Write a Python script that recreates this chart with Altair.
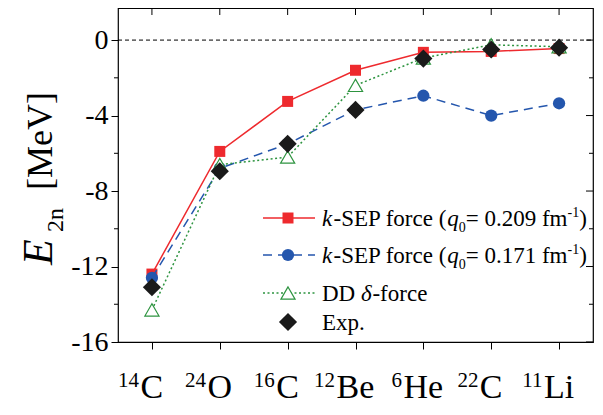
import altair as alt
import pandas as pd

# ---- data ----
mass_numbers = ["14", "24", "16", "12", "6", "22", "11"]
elements = ["C", "O", "C", "Be", "He", "C", "Li"]
ksep_209 = [-12.4, -5.9, -3.25, -1.6, -0.65, -0.6, -0.45]
ksep_171 = [-12.6, -6.8, -5.5, -3.7, -2.95, -4.0, -3.35]
dd_delta = [-14.3, -6.6, -6.2, -2.4, -0.95, -0.25, -0.35]
exp_vals = [-13.1, -6.95, -5.5, -3.7, -0.98, -0.5, -0.4]
y_major = [-16, -12, -8, -4, 0]
y_minor = [-14, -10, -6, -2]
zero_level = [0]

W, H = 475, 334
FONT = "Liberation Serif"
RED, BLUE, GREEN, BLACK = "#ee2a2e", "#2456ad", "#2e9440", "#1a1a1a"
STEP = W / 7.0

TR = {' ': 250, '(': 333, ')': 333, '-': 333, '.': 250, '=': 564, 'S': 556, 'E': 611,
      'P': 556, 'D': 722, 'f': 333, 'o': 500, 'r': 333, 'c': 444, 'e': 444, 'm': 778,
      'x': 500, 'p': 500, 'k': 500, 'C': 667, 'O': 722, 'B': 667, 'H': 722, 'L': 611,
      'i': 278, 'n': 500, '[': 333, ']': 333, 'M': 889, 'V': 722, 'q': 500, 'δ': 500}


def tw(s, size):
    return sum(TR.get(ch, 500) for ch in s) / 1000.0 * size


df = pd.DataFrame({
    "idx": list(range(7)),
    "ksep209": ksep_209,
    "ksep171": ksep_171,
    "dd": dd_delta,
    "exp": exp_vals,
    "num": mass_numbers,
    "el": elements,
})
df["npos"] = [i - (tw(e, 34) / 2 + 1.5) / STEP for i, e in zip(df["idx"], df["el"])]

xs = alt.Scale(domain=[-0.5, 6.5], nice=False, zero=False)
ys = alt.Scale(domain=[-16, 1.7], nice=False, zero=False)

x_axis = alt.Axis(values=list(range(7)), labels=False, tickSize=7, tickColor="black",
                  tickWidth=1, domain=False, grid=False, title=None)
y_axis = alt.Axis(values=y_major, labelExpr="datum.value == 0 ? '0' : '-' + abs(datum.value)",
                  labelFont=FONT, labelFontSize=28, labelColor="black", labelPadding=3,
                  tickSize=7, tickColor="black", tickWidth=1, domain=False, grid=False,
                  title=None)


def X(field="idx"):
    return alt.X(f"{field}:Q", scale=xs, axis=x_axis)


def Y(field):
    return alt.Y(f"{field}:Q", scale=ys, axis=y_axis)


base = alt.Chart(df)

# zero dashed line
zero = alt.Chart(pd.DataFrame({"v": zero_level})).mark_rule(
    color="black", strokeDash=[4, 3], strokeWidth=1).encode(
    y=Y("v"), x=alt.value(0), x2=alt.value(W))

# mirrored / minor ticks
left_minor = alt.Chart(pd.DataFrame({"v": y_minor})).mark_rule(color="black", strokeWidth=1).encode(
    y=Y("v"), x=alt.value(-4), x2=alt.value(0))
right_major = alt.Chart(pd.DataFrame({"v": y_major})).mark_rule(color="black", strokeWidth=1).encode(
    y=Y("v"), x=alt.value(W - 7), x2=alt.value(W))
right_minor = alt.Chart(pd.DataFrame({"v": y_minor})).mark_rule(color="black", strokeWidth=1).encode(
    y=Y("v"), x=alt.value(W - 4), x2=alt.value(W))
top_ticks = base.mark_rule(color="black", strokeWidth=1).encode(
    x=X(), y=alt.value(0), y2=alt.value(7))

# series
red_line = base.mark_line(color=RED, strokeWidth=1.5).encode(x=X(), y=Y("ksep209"))
red_pts = base.mark_point(shape="square", filled=True, color=RED, size=121, opacity=1).encode(
    x=X(), y=Y("ksep209"))
blue_line = base.mark_line(color=BLUE, strokeWidth=1.5, strokeDash=[9, 6]).encode(x=X(), y=Y("ksep171"))
blue_pts = base.mark_point(shape="circle", filled=True, color=BLUE, size=150, opacity=1).encode(
    x=X(), y=Y("ksep171"))
green_line = base.mark_line(color=GREEN, strokeWidth=1.5, strokeDash=[2, 2.5]).encode(x=X(), y=Y("dd"))
green_pts = base.mark_point(shape="triangle-up", filled=True, fill="white", stroke=GREEN,
                            strokeWidth=1.2, size=200, opacity=1).encode(x=X(), y=Y("dd"))
exp_pts = base.mark_point(shape="diamond", filled=True, color=BLACK, size=330, opacity=1).encode(
    x=X(), y=Y("exp"))

# x tick labels (superscript mass number + element symbol)
el_text = base.mark_text(font=FONT, fontSize=34, align="center", baseline="alphabetic",
                         color="black").encode(x=X(), y=alt.value(H + 56), text="el:N")
num_text = base.mark_text(font=FONT, fontSize=21, align="right", baseline="alphabetic",
                          color="black").encode(x=X("npos"), y=alt.value(H + 45), text="num:N")


def txt(s, x, y, size, italic=False, angle=0, align="left"):
    return alt.Chart(pd.DataFrame({"t": [s]})).mark_text(
        font=FONT, fontSize=size, fontStyle="italic" if italic else "normal",
        align=align, baseline="alphabetic", color="black", angle=angle).encode(
        text="t:N", x=alt.value(x), y=alt.value(y))


layers = []

# y title (rotated)
layers.append(txt("E", -66, 257, 42, italic=True, angle=270))
layers.append(txt("2n", -55, 224, 24, angle=270))
layers.append(txt("[MeV]", -66, 182, 36, angle=270))

# legend
LX_SYM, LX0, LX1, TX = 170, 145, 197, 204
rows_y = [210, 247, 285, 314]
FS, SS = 23, 14


def text_row(pieces, y):
    out = []
    x = TX
    for s, size, ital, dy in pieces:
        out.append(txt(s, x, y + dy, size, italic=ital))
        x += tw(s, size)
    return out


one = pd.DataFrame({"a": [0]})
leg_lines = [
    alt.Chart(one).mark_rule(color=RED, strokeWidth=1.5).encode(
        x=alt.value(LX0), x2=alt.value(LX1), y=alt.value(rows_y[0])),
    alt.Chart(one).mark_rule(color=BLUE, strokeWidth=1.5, strokeDash=[9, 6]).encode(
        x=alt.value(LX0), x2=alt.value(LX1), y=alt.value(rows_y[1])),
    alt.Chart(one).mark_rule(color=GREEN, strokeWidth=1.5, strokeDash=[2, 2.5]).encode(
        x=alt.value(LX0), x2=alt.value(LX1), y=alt.value(rows_y[2])),
]
leg_syms = [
    alt.Chart(one).mark_point(shape="square", filled=True, color=RED, size=121, opacity=1).encode(
        x=alt.value(LX_SYM), y=alt.value(rows_y[0])),
    alt.Chart(one).mark_point(shape="circle", filled=True, color=BLUE, size=150, opacity=1).encode(
        x=alt.value(LX_SYM), y=alt.value(rows_y[1])),
    alt.Chart(one).mark_point(shape="triangle-up", filled=True, fill="white", stroke=GREEN,
                              strokeWidth=1.2, size=200, opacity=1).encode(
        x=alt.value(LX_SYM), y=alt.value(rows_y[2])),
    alt.Chart(one).mark_point(shape="diamond", filled=True, color=BLACK, size=330, opacity=1).encode(
        x=alt.value(LX_SYM), y=alt.value(rows_y[3])),
]

B = 8  # baseline offset from row center
row1 = [("k", FS, True, B), ("-SEP force (", FS, False, B), ("q", FS, True, B), ("0", SS, False, B + 6),
        ("= 0.209 fm", FS, False, B), ("-1", SS, False, B - 9), (")", FS, False, B)]
row2 = [("k", FS, True, B), ("-SEP force (", FS, False, B), ("q", FS, True, B), ("0", SS, False, B + 6),
        ("= 0.171 fm", FS, False, B), ("-1", SS, False, B - 9), (")", FS, False, B)]
row3 = [("DD ", FS, False, B), ("δ", FS, True, B), (" -force", FS, False, B)]
row4 = [("Exp.", FS, False, B)]

legend_text = (text_row(row1, rows_y[0]) + text_row(row2, rows_y[1]) +
               text_row(row3, rows_y[2]) + text_row(row4, rows_y[3]))

chart = alt.layer(
    zero, left_minor, right_major, right_minor, top_ticks,
    red_line, red_pts, blue_line, blue_pts, green_line, green_pts, exp_pts,
    el_text, num_text,
    *layers, *leg_lines, *leg_syms, *legend_text
).properties(
    width=W, height=H,
    padding={"left": 110, "top": 0, "right": 2, "bottom": 62},
    autosize=alt.AutoSizeParams(type="none"),
).configure_view(stroke="black", strokeWidth=1.2)

chart.save("out.html", embed_options={"renderer": "svg", "actions": False})
